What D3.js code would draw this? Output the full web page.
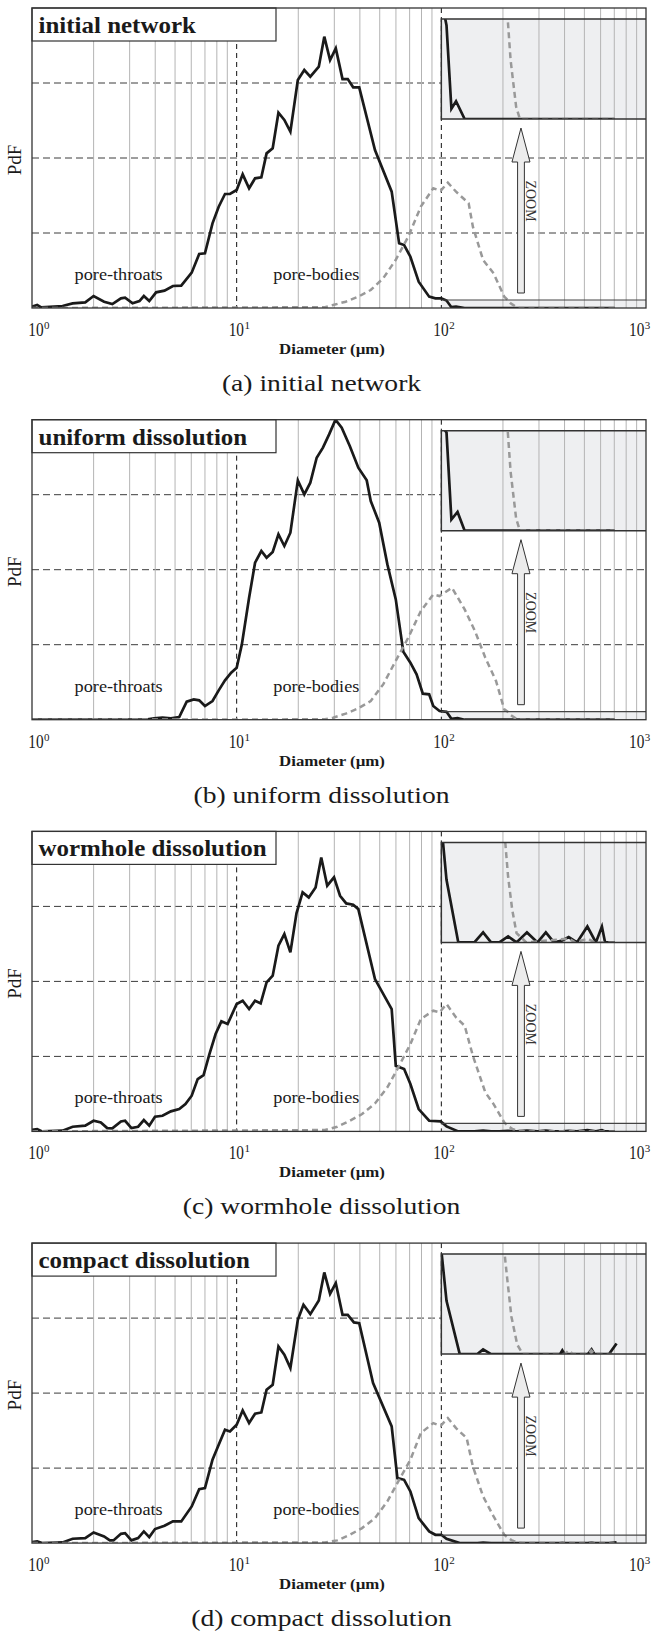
<!DOCTYPE html>
<html><head><meta charset="utf-8">
<script src="https://cdn.jsdelivr.net/npm/d3@7"></script>
<style>body{margin:0;background:#fff}svg{display:block}text{font-family:"Liberation Serif","Times New Roman",Times,serif}</style>
</head><body><svg id="c" width="653" height="1631"></svg>
<script>
// ---------- data (diameter in µm, PdF in arbitrary units 0..4) ----------
const titles = ["initial network", "uniform dissolution", "wormhole dissolution", "compact dissolution"];
const captions = ["(a) initial network", "(b) uniform dissolution", "(c) wormhole dissolution", "(d) compact dissolution"];
const xTickValues = [1, 10, 100, 1000];
const xTickExponents = ["0", "1", "2", "3"];
const yGridValues = [1, 2, 3];

const throatD_a = [1.0,1.06,1.11,1.41,1.58,1.82,2.0,2.25,2.47,2.72,2.85,3.10,3.35,3.52,3.74,4.04,4.44,4.88,5.36,6.03,6.56,7.0,7.62,8.17,8.77,9.27,10.0,10.7,11.5,12.3,13.2,14.0,15.0,16.0,17.1,18.3,19.9,21.4,22.9,25.2,26.8,28.6,30.5,32.9,34.9,37.1,39.7,47.4,57.2,62.2,65.8,70.6,77.5,87.2,93.5,100,106,112,118,130,702];
const throatP_a = [0.018,0.04,0.009,0.027,0.062,0.075,0.16,0.084,0.053,0.129,0.138,0.062,0.093,0.16,0.093,0.209,0.231,0.293,0.298,0.471,0.72,0.729,1.129,1.351,1.52,1.52,1.573,1.782,1.596,1.729,1.742,2.062,2.129,2.604,2.507,2.351,3.04,3.173,3.084,3.218,3.618,3.307,3.462,3.053,3.053,2.942,2.942,2.107,1.551,0.862,0.84,0.684,0.351,0.151,0.129,0.129,0.10,0.011,0.019,0,0];
const bodyD_a = [1,27,29.6,34.1,39.3,45.2,52.0,59.8,68.9,79.4,91.3,99.3,107.6,118,136,142.6,160,180,203,211,218,232,242,702];
const bodyP_a = [0,0.01,0.04,0.084,0.151,0.24,0.396,0.64,0.951,1.351,1.596,1.564,1.671,1.551,1.396,1.084,0.64,0.462,0.151,0.107,0.063,0.013,0,0];

const throatD_b = [1,3.6,3.95,4.34,4.77,5.24,5.70,6.17,6.56,7.0,7.62,8.17,8.77,9.40,10.0,10.6,11.5,12.3,13.2,14.0,15.0,16.0,17.1,18.3,19.9,21.4,22.9,24.6,26.4,28.3,30.4,32.6,35.7,39.3,43.2,45.2,49.7,54.5,59.9,65.2,70.6,75.7,81.2,87.2,91.3,98.0,106,112,120,130,702];
const throatP_b = [0,0,0.018,0.027,0.018,0.036,0.24,0.271,0.258,0.182,0.249,0.391,0.524,0.627,0.693,1.004,1.627,2.093,2.249,2.16,2.236,2.471,2.316,2.493,3.191,3.004,3.16,3.493,3.627,3.804,4.0,3.893,3.649,3.36,3.191,2.916,2.627,2.071,1.604,0.907,0.76,0.604,0.347,0.338,0.182,0.116,0.105,0.012,0.02,0,0];
const bodyD_b = [1,27,29.6,34.1,39.3,45.2,52.0,59.8,68.9,79.4,91.3,98,112.7,130,146,164,185,203,211,218,232,242,702];
const bodyP_b = [0,0.005,0.027,0.08,0.151,0.249,0.471,0.782,1.093,1.449,1.671,1.649,1.76,1.471,1.182,0.827,0.516,0.138,0.107,0.063,0.013,0,0];

const throatD_c = [1.0,1.06,1.12,1.41,1.58,1.82,2.0,2.17,2.33,2.47,2.72,2.85,3.06,3.30,3.52,3.74,3.99,4.34,4.77,5.24,5.62,6.03,6.45,6.89,7.36,7.89,8.42,9.03,10.0,10.7,11.5,12.3,13.1,14.0,15.0,16.0,17.1,18.3,19.6,21.0,22.5,24.3,25.9,27.7,29.9,32.0,34.3,37.1,39.3,47.4,57.2,59.9,65.8,70.6,77.5,87.2,99.3,106,121,145,160,175,192,212,233,262,295,324,355,390,419,460,517,569,609,631,702];
const throatP_c = [0.02,0.03,0,0.01,0.062,0.076,0.142,0.12,0.044,0.04,0.133,0.142,0.044,0.062,0.151,0.076,0.196,0.209,0.267,0.298,0.364,0.476,0.698,0.751,1.031,1.298,1.467,1.431,1.698,1.742,1.631,1.742,1.707,1.987,2.076,2.476,2.631,2.387,2.907,3.187,3.12,3.253,3.653,3.276,3.387,3.142,3.04,3.022,2.964,2.031,1.631,0.876,0.831,0.631,0.298,0.142,0.133,0.067,0,0,0.0107,0,0,0.0064,0,0.0107,0,0.0107,0,0.002,0.0057,0,0.017,0,0.017,0,0];
const bodyD_c = [1,27,31,35.7,41,47.4,54.5,61,70.6,79.4,91.3,98,106,118,130,142.6,164,180,203,212,222,233,260,420,450,520,560,702];
const bodyP_c = [0,0.018,0.062,0.142,0.231,0.373,0.587,0.831,1.164,1.498,1.609,1.587,1.698,1.52,1.409,1.009,0.52,0.364,0.12,0.07,0.035,0.01,0,0.004,0,0.004,0,0];

const throatD_d = [1.0,1.06,1.12,1.41,1.58,1.82,2.0,2.25,2.4,2.5,2.72,2.85,3.06,3.3,3.52,3.74,3.99,4.44,4.88,5.36,6.03,6.56,7.0,7.62,8.17,8.77,9.27,10.0,10.7,11.5,12.3,13.2,14.0,15.0,16.0,17.1,18.3,19.9,21.2,22.9,25.2,26.8,28.6,30.5,32.9,34.9,37.4,39.7,46.4,57.2,61,65.8,70.6,77.5,87.2,93.5,100,106,123,150,160,175,380,390,400,520,542,560,595,660,718];
const throatP_d = [0.013,0.022,0,0.009,0.058,0.067,0.142,0.089,0.036,0.036,0.124,0.133,0.036,0.067,0.156,0.08,0.187,0.231,0.289,0.289,0.489,0.72,0.733,1.111,1.311,1.511,1.489,1.578,1.769,1.6,1.724,1.742,2.044,2.111,2.622,2.511,2.333,2.978,3.178,3.053,3.236,3.609,3.324,3.467,3.044,3.044,2.942,2.933,2.133,1.556,0.867,0.844,0.689,0.333,0.156,0.111,0.111,0.057,0,0,0.005,0,0,0.004,0,0,0.005,0,0,0,0.0114];
const bodyD_d = [1,27,31,35.7,41,47.4,54.5,62.2,70.6,79.4,91.3,99.3,107.6,118,133,142.6,160,180,203,210,220,235,250,400,420,440,520,540,560,702];
const bodyP_d = [0,0.009,0.036,0.111,0.2,0.333,0.556,0.844,1.111,1.467,1.6,1.564,1.667,1.533,1.4,1.022,0.622,0.356,0.111,0.08,0.04,0.01,0,0,0.004,0,0,0.004,0,0];

const throatD = [throatD_a, throatD_b, throatD_c, throatD_d];
const throatP = [throatP_a, throatP_b, throatP_c, throatP_d];
const bodyD = [bodyD_a, bodyD_b, bodyD_c, bodyD_d];
const bodyP = [bodyP_a, bodyP_b, bodyP_c, bodyP_d];

// ---------- layout ----------
const L = 32, R = 646, H = 300;
const tops = [8, 419.7, 831.4, 1243.1];
const zoomMax = 0.107;           // PdF height of the magnified strip
const FONT = "Liberation Serif, Times New Roman, Times, serif";

const svg = d3.select('#c');
const defs = svg.append('defs');
const x = d3.scaleLog().domain([1, 1000]).range([L, R]);

function label(g, s, px, py, size, o) {
  o = o || {};
  return g.append('text')
    .attr('transform', `translate(${px},${py}) scale(${o.sx || 1},${o.sy || 1})` + (o.rot ? ` rotate(${o.rot})` : ''))
    .attr('font-family', FONT).attr('font-size', size)
    .attr('font-weight', o.bold ? 'bold' : 'normal')
    .attr('text-anchor', o.anchor || 'start')
    .attr('fill', o.fill || '#1a1a1a')
    .text(s);
}

tops.forEach((T, i) => {
  const g = svg.append('g');
  const y = d3.scaleLinear().domain([0, 4]).range([T + H, T]);
  const xi0 = x(100);
  const insTop = T + 11, insBot = T + 111;
  const yi = d3.scaleLinear().domain([0, zoomMax]).range([insBot, insTop]);

  defs.append('clipPath').attr('id', 'cp' + i).append('rect')
    .attr('x', L).attr('y', T).attr('width', R - L).attr('height', H);
  defs.append('clipPath').attr('id', 'ci' + i).append('rect')
    .attr('x', xi0).attr('y', insTop).attr('width', R - xi0).attr('height', insBot - insTop);

  // horizontal dashed grid
  g.selectAll('.hg').data(yGridValues).enter().append('line')
    .attr('x1', L).attr('x2', R).attr('y1', d => y(d)).attr('y2', d => y(d))
    .attr('stroke', '#3c3c3c').attr('stroke-width', 1).attr('stroke-dasharray', '7,4');

  // inset + source strip fills
  g.append('rect').attr('x', xi0).attr('y', insTop).attr('width', R - xi0).attr('height', insBot - insTop)
    .attr('fill', '#eeeff1');
  g.append('rect').attr('x', xi0).attr('y', y(zoomMax)).attr('width', R - xi0).attr('height', y(0) - y(zoomMax))
    .attr('fill', '#eeeff1');

  // minor vertical grid
  const minor = [];
  [1, 10, 100].forEach(dec => { for (let m = 2; m <= 9; m++) minor.push(m * dec); });
  g.selectAll('.vg').data(minor).enter().append('line')
    .attr('x1', d => x(d)).attr('x2', d => x(d)).attr('y1', T).attr('y2', T + H)
    .attr('stroke', '#b4b4b4').attr('stroke-width', 1);
  // decade dashed lines
  g.selectAll('.dg').data([10, 100]).enter().append('line')
    .attr('x1', d => x(d)).attr('x2', d => x(d)).attr('y1', T).attr('y2', T + H)
    .attr('stroke', '#111').attr('stroke-width', 1).attr('stroke-dasharray', '5,4');

  // zoom arrow
  const cx = x(245), tip = T + 120, base = T + 154, bot = T + 285;
  g.append('path')
    .attr('d', `M${cx},${tip}L${cx + 9},${base}L${cx + 3.4},${base}L${cx + 3.4},${bot}L${cx - 3.4},${bot}L${cx - 3.4},${base}L${cx - 9},${base}Z`)
    .attr('fill', '#ececec').attr('stroke', '#333').attr('stroke-width', 1);
  label(g, 'ZOOM', cx + 5.5, T + 193, 14, { rot: 90, anchor: 'middle', fill: '#333' });

  // curves
  const thr = throatD[i].map((d, k) => [d, throatP[i][k]]);
  const bod = bodyD[i].map((d, k) => [d, bodyP[i][k]]);
  const lineMain = d3.line().x(d => x(d[0])).y(d => y(d[1]));
  const lineIns = d3.line().x(d => x(d[0])).y(d => yi(d[1]));

  const gm = g.append('g').attr('clip-path', `url(#cp${i})`);
  gm.append('path').attr('d', lineMain(thr)).attr('fill', 'none')
    .attr('stroke', '#1a1a1a').attr('stroke-width', 2.7);
  gm.append('path').attr('d', lineMain(bod)).attr('fill', 'none')
    .attr('stroke', '#999').attr('stroke-width', 2.5).attr('stroke-dasharray', '6,4');

  const gi = g.append('g').attr('clip-path', `url(#ci${i})`);
  gi.append('path').attr('d', lineIns(thr)).attr('fill', 'none')
    .attr('stroke', '#1a1a1a').attr('stroke-width', 2.7);
  gi.append('path').attr('d', lineIns(bod)).attr('fill', 'none')
    .attr('stroke', '#999').attr('stroke-width', 2.5).attr('stroke-dasharray', '6,4');

  // inset border
  g.append('path').attr('d', `M${R},${insTop}H${xi0}V${insBot}H${R}`)
    .attr('fill', 'none').attr('stroke', '#333').attr('stroke-width', 1.5);
  // source strip top border
  g.append('line').attr('x1', xi0).attr('x2', R).attr('y1', y(zoomMax)).attr('y2', y(zoomMax))
    .attr('stroke', '#444').attr('stroke-width', 1.2);

  // title box
  g.append('rect').attr('x', L).attr('y', T).attr('width', 244).attr('height', 33)
    .attr('fill', '#fff').attr('stroke', '#333').attr('stroke-width', 1.2);
  label(g, titles[i], 38.5, T + 25, 22.5, { bold: true, sx: 1.11 });

  // plot frame
  g.append('rect').attr('x', L).attr('y', T).attr('width', R - L).attr('height', H)
    .attr('fill', 'none').attr('stroke', '#333').attr('stroke-width', 1.3);

  // annotations
  label(g, 'pore-throats', x(2.65), T + 272, 16, { sx: 1.14, anchor: 'middle' });
  label(g, 'pore-bodies', x(24.5), T + 272, 16, { sx: 1.14, anchor: 'middle' });

  // x tick labels
  xTickValues.forEach((v, k) => {
    let sx = x(v) - 8;
    if (k === 0) sx = 28.3;
    if (k === 3) sx = 629;
    label(g, '10', sx, T + 328, 18, { sx: 0.85 });
    label(g, xTickExponents[k], sx + 15.8, T + 321, 11, { sx: 1.0 });
  });

  // axis titles
  label(g, 'Diameter (\u00b5m)', 332, T + 346, 15, { bold: true, sx: 1.12, anchor: 'middle' });
  label(g, 'PdF', 20.5, T + 152, 19, { rot: -90, anchor: 'middle' });

  // caption
  label(g, captions[i], 321.5, T + 383, 24, { sx: 1.15, anchor: 'middle' });
});
</script></body></html>
